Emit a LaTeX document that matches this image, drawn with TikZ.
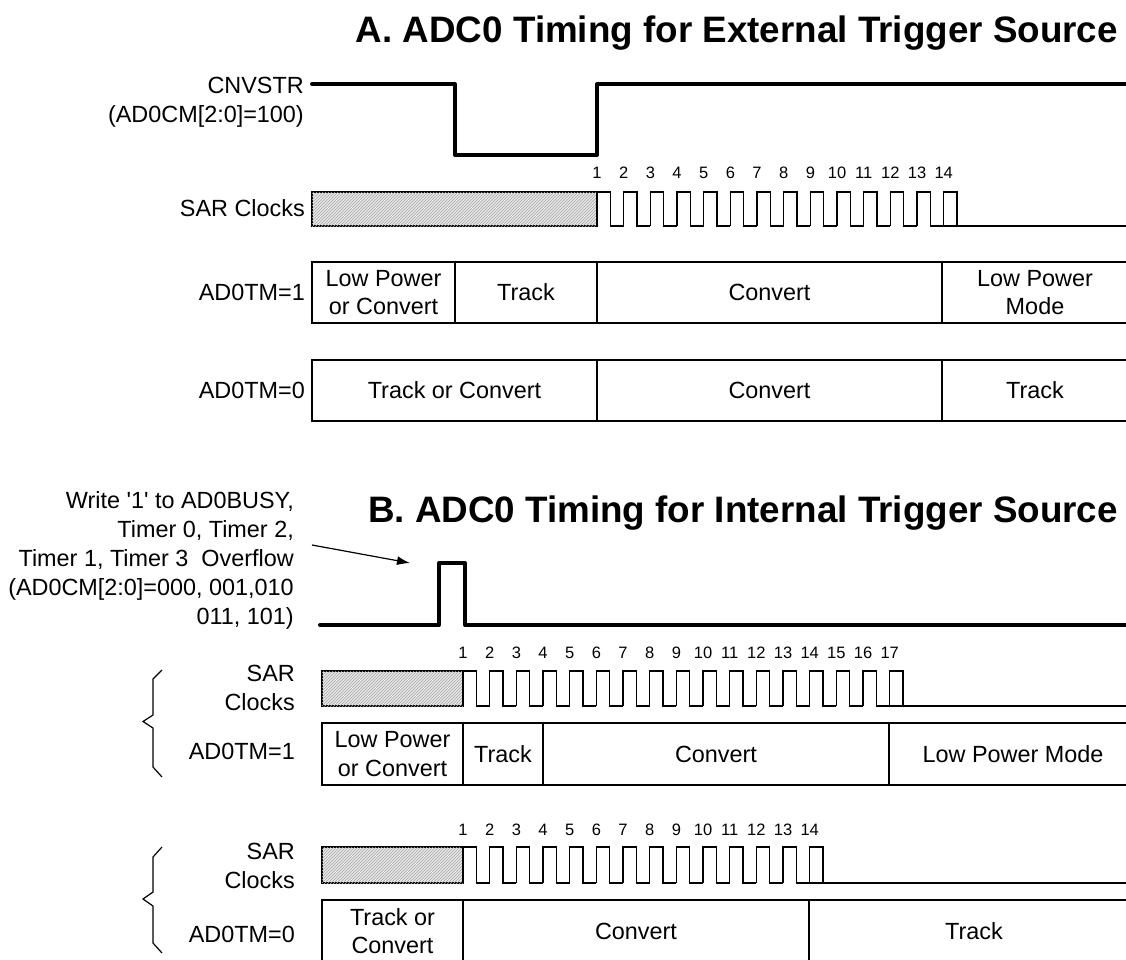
\documentclass[tikz,border=0pt]{standalone}
\usepackage{fontspec}
\setmainfont{Liberation Sans}
\usetikzlibrary{arrows.meta,patterns}
\tikzset{
  sig/.style={line width=4pt,line join=round,line cap=round},
  thinline/.style={line width=1.2pt},
  hatchbox/.style={draw,line width=1.2pt,fill=gray!18,
    postaction={pattern=north east lines,pattern color=gray!70}},
  lbl/.style={anchor=east,align=right,inner sep=0pt,font=\fontsize{23.4}{29}\selectfont},
  boxtxt/.style={align=center,inner sep=0pt,font=\fontsize{23.4}{28.5}\selectfont},
  num/.style={inner sep=0pt,font=\fontsize{16.5}{18}\selectfont},
  ttl/.style={anchor=east,inner sep=0pt,font=\fontsize{36.8}{40}\selectfont\bfseries}
}
\begin{document}
\begin{tikzpicture}[x=1pt,y=-1pt]
\clip (0,0) rectangle (1126,959);
% A: external trigger
\node[ttl] (ttlA) at (1118,33) {A. ADC0 Timing for External Trigger Source};
\node[lbl] (cnvstr) at (304,102) {CNVSTR\\(AD0CM[2:0]=100)};
\draw[sig] (312,84) -- (455,84) -- (455,155) -- (597,155) -- (597,84) -- (1130,84);
\node[lbl] (sarA) at (305,208) {SAR Clocks};
\draw[hatchbox] (312,192) rectangle (597,226);
\foreach \k in {0,...,13}
  \draw[thinline] ({597+\k*26.67},226) |- ({610.33+\k*26.67},192) |- ({623.67+\k*26.67},226);
\draw[thinline] (943.67,226) -- (1130,226);
\foreach \k in {1,...,14}
  \node[num] (numA\k) at ({597+(\k-1)*26.67},173) {\k};
\node[lbl] (tmA1) at (305,292.5) {AD0TM=1};
\draw[thinline] (1130,262) -- (312,262) -- (312,323) -- (1130,323);
\foreach \x in {455,597,942}
  \draw[thinline] (\x,262) -- (\x,323);
\node[boxtxt] (lpA1) at (383.5,292.5) {Low Power\\or Convert};
\node[boxtxt] (trA1) at (526,292.5) {Track};
\node[boxtxt] (cvA1) at (769.5,292.5) {Convert};
\node[boxtxt] (lmA1) at (1035,292.5) {Low Power\\Mode};
\node[lbl] (tmA0) at (305,390.5) {AD0TM=0};
\draw[thinline] (1130,360) -- (312,360) -- (312,421) -- (1130,421);
\foreach \x in {597,942}
  \draw[thinline] (\x,360) -- (\x,421);
\node[boxtxt] (tcA0) at (454.5,390.5) {Track or Convert};
\node[boxtxt] (cvA0) at (769.5,390.5) {Convert};
\node[boxtxt] (trA0) at (1035,390.5) {Track};
% B: internal trigger
\node[ttl] (ttlB) at (1118,513) {B. ADC0 Timing for Internal Trigger Source};
\node[lbl] (write) at (294,560) {Write \textquotesingle 1\textquotesingle\ to AD0BUSY,\\Timer 0, Timer 2,\\Timer 1, Timer 3~~Overflow\\(AD0CM[2:0]=000, 001,010\\011, 101)};
\coordinate (trigtail) at (312,545);
\coordinate (trigtip) at (410,563);
\draw[thinline,-{Latex[length=13pt,width=9pt]}] (trigtail) -- (trigtip);
\draw[sig] (320,625) -- (439,625) -- (439,563) -- (465,563) -- (465,625) -- (1130,625);
% B, AD0TM=1
\draw[thinline] (162,670) -- (153,679) -- (153,715) -- (143,721.5) -- (153,728) -- (153,767) -- (162,777);
\node[lbl] (sarB1) at (295,688) {SAR\\Clocks};
\draw[hatchbox] (322,671) rectangle (463,706);
\foreach \k in {0,...,16}
  \draw[thinline] ({463+\k*26.67},706) |- ({476.33+\k*26.67},671) |- ({489.67+\k*26.67},706);
\draw[thinline] (889.67,706) -- (1140,706);
\foreach \k in {1,...,17}
  \node[num] (numB\k) at ({463+(\k-1)*26.67},653) {\k};
\node[lbl] (tmB1) at (295,751) {AD0TM=1};
\draw[thinline] (1140,723) -- (322,723) -- (322,785) -- (1140,785);
\foreach \x in {463,543,889}
  \draw[thinline] (\x,723) -- (\x,785);
\node[boxtxt] (lpB1) at (392.5,754) {Low Power\\or Convert};
\node[boxtxt] (trB1) at (503,754) {Track};
\node[boxtxt] (cvB1) at (716,754) {Convert};
\node[boxtxt] (lmB1) at (1013,754) {Low Power Mode};
% B, AD0TM=0
\draw[thinline] (162,847) -- (153,857) -- (153,892) -- (143,899) -- (153,906) -- (153,943) -- (162,953);
\node[lbl] (sarB0) at (295,866) {SAR\\Clocks};
\draw[hatchbox] (322,847) rectangle (463,883);
\foreach \k in {0,...,13}
  \draw[thinline] ({463+\k*26.67},883) |- ({476.33+\k*26.67},847) |- ({489.67+\k*26.67},883);
\draw[thinline] (809.67,883) -- (1140,883);
\foreach \k in {1,...,14}
  \node[num] (numC\k) at ({463+(\k-1)*26.67},830) {\k};
\node[lbl] (tmB0) at (295,934) {AD0TM=0};
\draw[thinline] (1140,900) -- (322,900) -- (322,963) -- (1140,963);
\foreach \x in {463,809}
  \draw[thinline] (\x,900) -- (\x,963);
\node[boxtxt] (tcB0) at (392.5,931) {Track or\\Convert};
\node[boxtxt] (cvB0) at (636,931) {Convert};
\node[boxtxt] (trB0) at (974,931) {Track};
\end{tikzpicture}
\end{document}
